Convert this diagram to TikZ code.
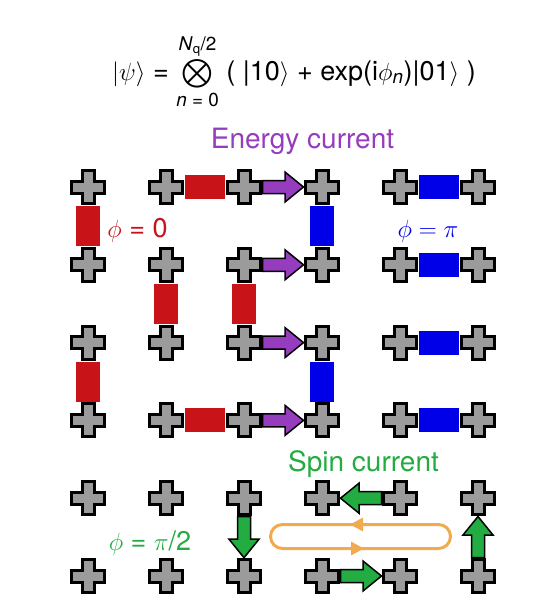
\documentclass[tikz,border=0pt]{standalone}
\usepackage{fontspec}
\usepackage{amsmath}
\setmainfont{TeX Gyre Heros}
\usetikzlibrary{calc,arrows.meta}
\definecolor{qubitgray}{RGB}{155,155,155}
\definecolor{bondred}{RGB}{200,20,24}
\definecolor{bondblue}{RGB}{0,0,232}
\definecolor{energypurple}{RGB}{150,60,190}
\definecolor{spingreen}{RGB}{34,172,66}
\definecolor{looporange}{RGB}{242,170,78}
\def\qubit(#1){\draw[line width=3pt, line join=miter, fill=qubitgray, shift={(#1)}] (-6,-16.5) -- (6,-16.5) -- (6,-6) -- (16.5,-6) -- (16.5,6) -- (6,6) -- (6,16.5) -- (-6,16.5) -- (-6,6) -- (-16.5,6) -- (-16.5,-6) -- (-6,-6) -- cycle;}
\def\bond[#1](#2)(#3){\fill[#1, shift={(#2)}, rotate=#3] (19,-12) rectangle (59,12);}
\def\fatarrow[#1](#2)(#3){\draw[line width=1.5pt, line join=miter, fill=#1, shift={(#2)}, rotate=#3] (18.5,-6.5) -- (41,-6.5) -- (41,-15) -- (59.5,0) -- (41,15) -- (41,6.5) -- (18.5,6.5) -- cycle;}

\begin{document}
\begin{tikzpicture}[x=1pt, y=-1pt,
		phaselabel/.style={anchor=base, font=\fontsize{27}{30}\selectfont},
		currentlabel/.style={anchor=base, font=\fontsize{28}{30}\selectfont}]
		%%%%% START %%%%%
		
		\useasboundingbox (0,0) rectangle (540,616);
		
		\foreach \r in {0,...,5}
			\foreach \c in {0,...,5}
				\coordinate (s\r\c) at ({88+78*\c}, {187+77.8*\r});
		
		\node[anchor=base, font=\fontsize{27}{30}\selectfont] (state) at (294,80) {$|\psi\rangle$ = $\mathop{\vcenter{\hbox{\scalebox{1.15}{$\textstyle\bigotimes$}}}}\limits_{\text{\raisebox{-3pt}{\textit{n} = 0}}}^{\text{\raisebox{4pt}{\textit{N}\textsubscript{q}/2}}}$ ( |10$\rangle$ + exp(i$\phi_{\text{\textit{n}}}$)|01$\rangle$ )};
		
		% phi = 0 bonds
		\bond[bondred](s01)(0);
		\bond[bondred](s31)(0);
		\bond[bondred](s00)(-90);
		\bond[bondred](s11)(-90);
		\bond[bondred](s12)(-90);
		\bond[bondred](s20)(-90);
		
		% phi = pi bonds
		\bond[bondblue](s04)(0);
		\bond[bondblue](s14)(0);
		\bond[bondblue](s24)(0);
		\bond[bondblue](s34)(0);
		\bond[bondblue](s03)(-90);
		\bond[bondblue](s23)(-90);
		
		\foreach \r in {0,...,5}
			\foreach \c in {0,...,5}
				\qubit(s\r\c);
		
		\fatarrow[energypurple](s02)(0);
		\fatarrow[energypurple](s12)(0);
		\fatarrow[energypurple](s22)(0);
		\fatarrow[energypurple](s32)(0);
		
		\fatarrow[spingreen](s44)(180);
		\fatarrow[spingreen](s42)(-90);
		\fatarrow[spingreen](s55)(90);
		\fatarrow[spingreen](s53)(0);
		
		\draw[looporange, line width=3pt, rounded corners=12pt] (270.5,524.5) rectangle (450.5,548.5);
		\draw[looporange, line width=3pt, -{Triangle[length=13pt,width=13pt]}] (365,524.5) -- (350,524.5);
		\draw[looporange, line width=3pt, -{Triangle[length=13pt,width=13pt]}] (350,548.5) -- (364,548.5);
		
		\node[currentlabel, text=energypurple] (energy) at (302.5,148) {Energy current};
		\node[currentlabel, text=spingreen] (spin) at (363.5,471) {Spin current};
		
		\node[phaselabel, text=bondred] (phizero) at (137.5,237) {$\phi$ = 0};
		\node[phaselabel, text=bondblue] (phipi) at (428,237) {$\phi = \pi$};
		\node[phaselabel, text=spingreen] (phihalf) at (150,550) {$\phi$ = $\pi$/2};
		
		%%%%% END %%%%%
	\end{tikzpicture}
\end{document}
